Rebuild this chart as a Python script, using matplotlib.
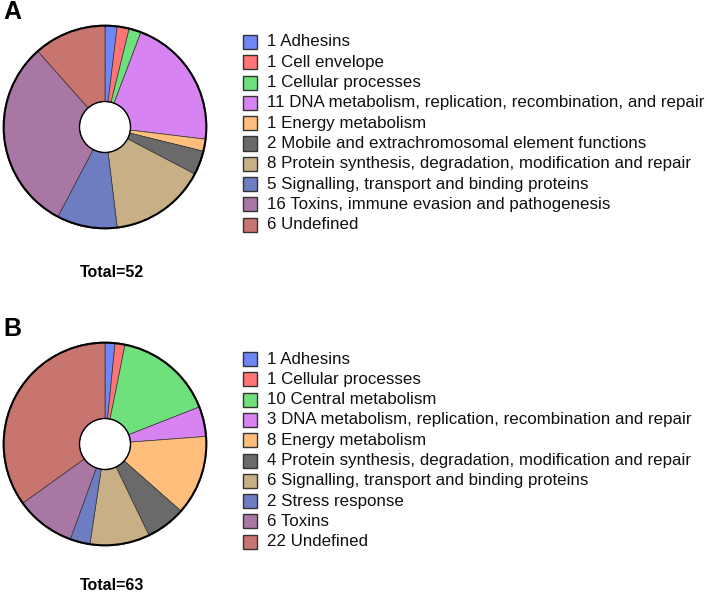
import matplotlib
matplotlib.use('Agg')
import matplotlib.pyplot as plt
from matplotlib.patches import Rectangle, Circle

plt.rcParams['font.family'] = ['Liberation Sans', 'DejaVu Sans']

# panel A
counts_a = [1, 1, 1, 11, 1, 2, 8, 5, 16, 6]
labels_a = ['Adhesins', 'Cell envelope', 'Cellular processes',
            'DNA metabolism, replication, recombination, and repair',
            'Energy metabolism', 'Mobile and extrachromosomal element functions',
            'Protein synthesis, degradation, modification and repair',
            'Signalling, transport and binding proteins',
            'Toxins, immune evasion and pathogenesis', 'Undefined']

# panel B
counts_b = [1, 1, 10, 3, 8, 4, 6, 2, 6, 22]
labels_b = ['Adhesins', 'Cellular processes', 'Central metabolism',
            'DNA metabolism, replication, recombination and repair',
            'Energy metabolism',
            'Protein synthesis, degradation, modification and repair',
            'Signalling, transport and binding proteins', 'Stress response',
            'Toxins', 'Undefined']

colors = ['#6F86F7', '#FF7474', '#6EE07C', '#D883F2', '#FFBE7C',
          '#6A6A6A', '#C8AF86', '#6E7CC2', '#A877A4', '#C9756F']

W, H = 709, 595
fig = plt.figure(figsize=(W / 100, H / 100), dpi=100)
fig.patch.set_facecolor('white')


def draw_panel(counts, labels, letter, cy, leg_y0, total_dy):
    r = 103
    cx = 105
    ax = fig.add_axes([(cx - r) / W, (H - cy - r) / H, 2 * r / W, 2 * r / H])
    ax.pie(counts, colors=colors, startangle=90, counterclock=False,
           radius=1, wedgeprops=dict(width=0.75, edgecolor='#333333', linewidth=0.5))
    ax.add_patch(Circle((0, 0), 0.993, fill=False, edgecolor='black', linewidth=1.4))
    ax.add_patch(Circle((0, 0), 0.25, fill=False, edgecolor='black', linewidth=1.0))
    ax.set_xlim(-1.01, 1.01)
    ax.set_ylim(-1.01, 1.01)
    ax.set_aspect('equal')
    ax.axis('off')

    fig.text(3 / W, 1 - (cy - 115) / H, letter, fontsize=18, fontweight='bold',
             ha='left', va='center')
    fig.text(112 / W, 1 - (cy + total_dy) / H, 'Total=%d' % sum(counts), fontsize=11.5,
             fontweight='bold', ha='center', va='center')

    step = 20.3
    for i, (n, lab) in enumerate(zip(counts, labels)):
        y = leg_y0 + i * step
        fig.patches.append(Rectangle((243 / W, 1 - (y + 7) / H), 14 / W, 14 / H,
                                     transform=fig.transFigure, facecolor=colors[i],
                                     edgecolor='#333333', linewidth=1.0))
        fig.text(267 / W, 1 - y / H, '%d %s' % (n, lab), fontsize=12.2,
                 ha='left', va='center', color='#111111')


draw_panel(counts_a, labels_a, 'A', 127, 42, 146)
draw_panel(counts_b, labels_b, 'B', 444, 359, 142)

fig.savefig('out.png', dpi=100)
